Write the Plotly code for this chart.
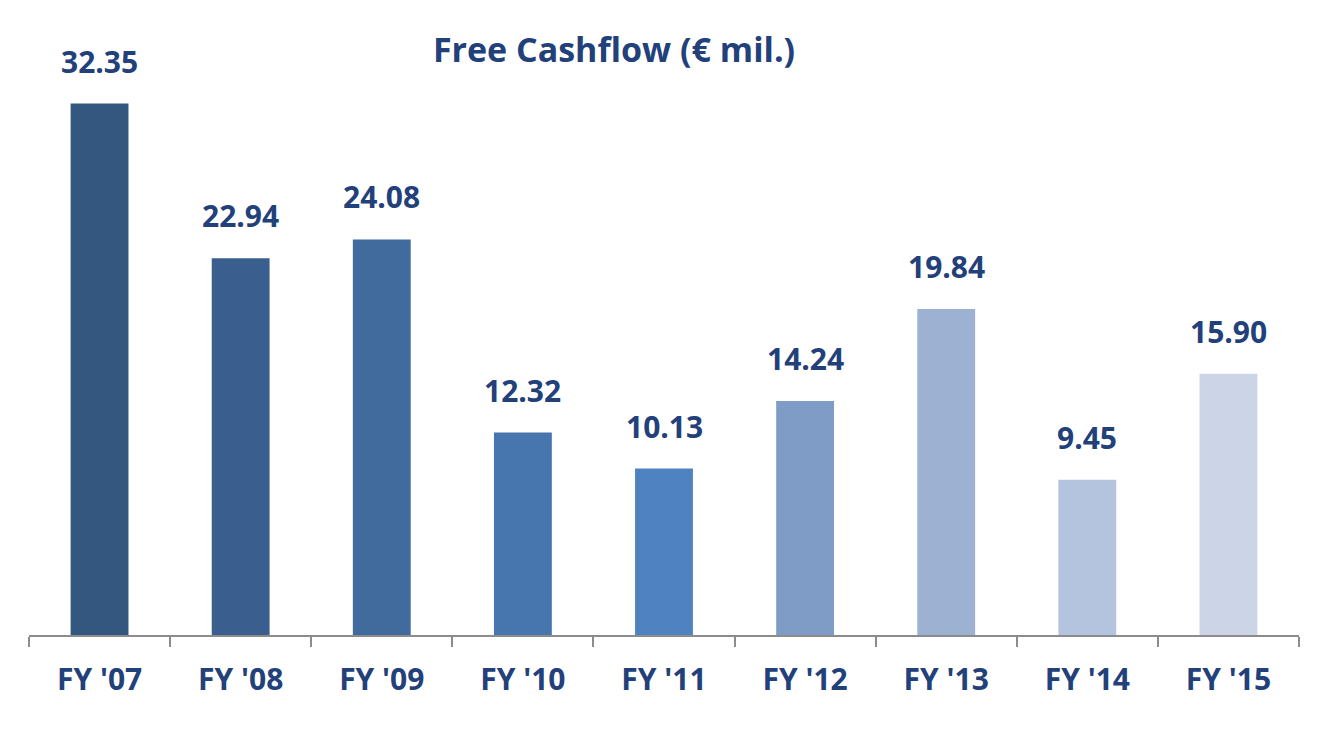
import plotly.graph_objects as go

categories = ["FY '07", "FY '08", "FY '09", "FY '10", "FY '11", "FY '12", "FY '13", "FY '14", "FY '15"]
values = [32.35, 22.94, 24.08, 12.32, 10.13, 14.24, 19.84, 9.45, 15.90]
labels = ["32.35", "22.94", "24.08", "12.32", "10.13", "14.24", "19.84", "9.45", "15.90"]
colors = ["#345780", "#3a5f8f", "#416b9d", "#4775ae", "#4f82c0", "#7f9cc7", "#9db1d3", "#b4c4df", "#ccd5e7"]

txt_color = "#22407a"
font_family = "'Open Sans', Lato, sans-serif"

fig = go.Figure()
fig.add_trace(go.Bar(
    x=categories, y=values, marker=dict(color=colors, line=dict(width=0)),
    width=0.41, hoverinfo="skip",
))

for c, v, t in zip(categories, values, labels):
    fig.add_annotation(x=c, y=v, text="<b>%s</b>" % t, showarrow=False,
                       yanchor="bottom", yshift=20,
                       font=dict(family=font_family, size=30, color=txt_color))

fig.update_layout(
    width=1342, height=744,
    margin=dict(l=29, r=43, t=60, b=109),
    paper_bgcolor="white", plot_bgcolor="white",
    showlegend=False,
    title=dict(text="<b>Free Cashflow (€ mil.)</b>", x=614/1342, xanchor="center",
               y=1 - 50/744, yanchor="middle",
               font=dict(family=font_family, size=34, color=txt_color)),
    xaxis=dict(showgrid=False, showline=True, linecolor="#8c8c8c", linewidth=2,
               ticks="outside", tickson="boundaries", ticklen=10, tickwidth=2,
               tickcolor="#8c8c8c",
               tickfont=dict(family=font_family, size=30, color=txt_color),
               ticklabelstandoff=17,
               tickprefix="<b>", ticksuffix="</b>"),
    yaxis=dict(range=[0, 35], visible=False, showgrid=False, zeroline=False),
)

fig.write_html("out.html")
